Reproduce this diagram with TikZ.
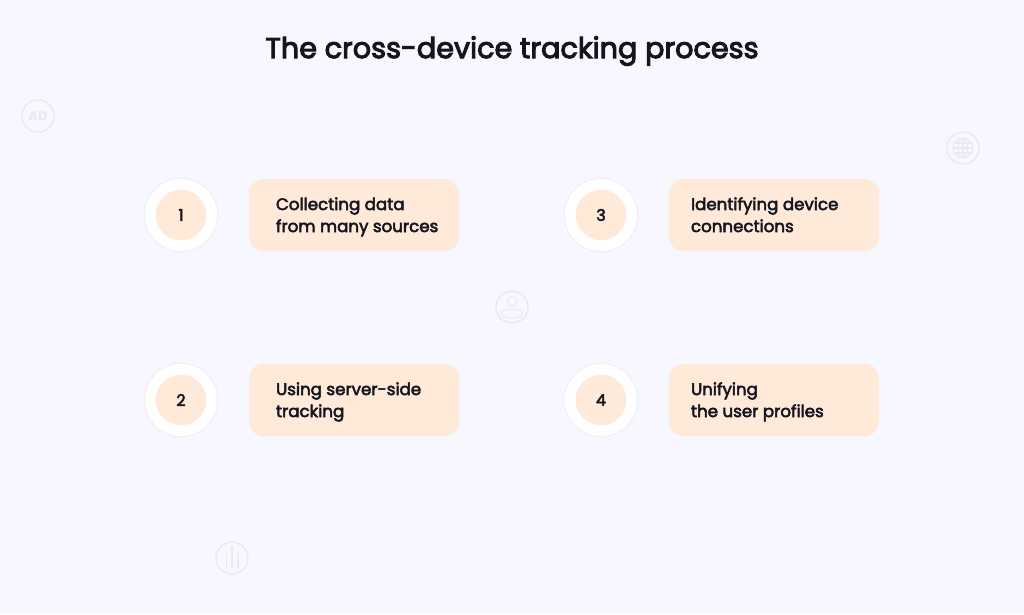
\documentclass[tikz,border=0pt]{standalone}
\usepackage{fontspec}
\setmainfont{Poppins}
\newfontfamily\medfont{Poppins}[FakeBold=3.0]
\newfontfamily\semifont{Poppins}[FakeBold=3.6]
\definecolor{bgc}{HTML}{F6F7FF}
\definecolor{peach}{HTML}{FFE9D8}
\definecolor{ink}{HTML}{14151F}
\definecolor{iconc}{HTML}{E9EAF1}
\definecolor{shadowc}{HTML}{C8C9D8}
\tikzset{
  x=0.75pt,y=-0.75pt,
  stepbox/.style={draw=none,fill=peach,rounded corners=11pt,minimum height=54pt,minimum width=157.5pt,inner sep=0pt},
  steptext/.style={anchor=west,inner sep=0pt,align=left,text=ink,
    font=\medfont\fontsize{12.5}{16.5}\selectfont,
    execute at begin node=\strut,execute at end node=\strut},
  outerring/.style={circle,fill=white,minimum size=54pt,inner sep=0pt},
  softa/.style={circle,fill=shadowc,fill opacity=0.08,minimum size=56.4pt,inner sep=0pt},
  softb/.style={circle,fill=shadowc,fill opacity=0.10,minimum size=55.2pt,inner sep=0pt},
  numdisc/.style={circle,fill=peach,minimum size=38pt,inner sep=0pt,text=ink,font=\medfont\fontsize{12}{14}\selectfont},
  icon/.style={draw=iconc,line width=0.8pt,fill=none},
  iconring/.style={circle,draw=iconc,line width=1.1pt,minimum size=24pt,inner sep=0pt},
}
\begin{document}
\begin{tikzpicture}
\useasboundingbox (0,0) rectangle (1024,614);
\fill[bgc] (0,0) rectangle (1024,614);
\node[text=ink,font=\semifont\fontsize{21.5}{26}\selectfont] (title) at (512,51) {The cross-device tracking process};

% background icons
\node[iconring,font=\bfseries\fontsize{9.5}{10}\selectfont,text=iconc] (adicon) at (38,116) {AD};
\node[iconring] (globe) at (963,148) {};
\draw[icon] (963,148) circle (10);
\draw[icon] (963,148) ellipse (4.5 and 10);
\draw[icon] (953,148) -- (973,148);
\draw[icon] (954.5,143) -- (971.5,143);
\draw[icon] (954.5,153) -- (971.5,153);
\draw[icon] (963,138) -- (963,158);
\node[iconring] (usericon) at (512,307) {};
\draw[icon] (512,301.5) circle (5);
\draw[icon] (512,313.5) ellipse (10.5 and 4.5);
\node[iconring] (bars) at (232,558) {};
\draw[icon] (226.5,555) -- (226.5,568);
\draw[icon] (232,546) -- (232,568);
\draw[icon] (238,553) -- (238,568);

\foreach \nm/\cx/\cy in {1/181/215,2/181/400,3/601/215,4/601/400}{
  \node[softa] (sa\nm) at (\cx,\cy) {};
  \node[softb] (sb\nm) at (\cx,\cy) {};
  \node[outerring] (r\nm) at (\cx,\cy) {};
}
\node[numdisc] (n1) at (181,215) {1};
\node[stepbox] (b1) at (354,215) {};
\node[steptext] (t1) at ([xshift=20.25pt,yshift=-2.25pt]b1.west) {Collecting data\\from many sources};

\node[numdisc] (n2) at (181,400) {2};
\node[stepbox] (b2) at (354,400) {};
\node[steptext] (t2) at ([xshift=20.25pt,yshift=-2.25pt]b2.west) {Using server-side\\tracking};

\node[numdisc] (n3) at (601,215) {3};
\node[stepbox] (b3) at (774,215) {};
\node[steptext] (t3) at ([xshift=16.5pt,yshift=-2.25pt]b3.west) {Identifying device\\connections};

\node[numdisc] (n4) at (601,400) {4};
\node[stepbox] (b4) at (774,400) {};
\node[steptext] (t4) at ([xshift=16.5pt,yshift=-2.25pt]b4.west) {Unifying\\the user profiles};
\end{tikzpicture}
\end{document}
